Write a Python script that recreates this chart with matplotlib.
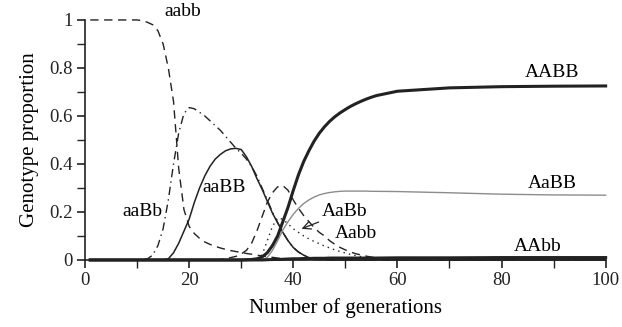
import numpy as np
import matplotlib.pyplot as plt
from matplotlib.ticker import MultipleLocator

plt.rcParams['font.family'] = ['Liberation Serif', 'DejaVu Serif']

# geracoes amostradas
gen = [1, 5, 10, 11, 12, 13, 14, 15, 16, 17, 18, 19, 20, 21, 22, 23, 24, 25,
       26, 27, 28, 29, 30, 31, 32, 33, 34, 35, 36, 37, 38, 39, 40, 41, 42, 43,
       44, 45, 46, 47, 48, 49, 50, 51, 52, 53, 54, 55, 56, 60, 70, 80, 90, 100]

aabb = [1, 1, 1, 0.997, 0.99, 0.98, 0.955, 0.9, 0.8, 0.66, 0.38, 0.21, 0.14,
        0.11, 0.09, 0.075, 0.065, 0.057, 0.05, 0.044, 0.039, 0.035, 0.031,
        0.027, 0.024, 0.02, 0.017, 0.014, 0.011, 0.008, 0.006, 0.004, 0.003,
        0.002, 0.002, 0.001, 0.001, 0.001, 0.001, 0.001, 0.001, 0.001, 0.001,
        0.001, 0.001, 0.001, 0.001, 0.001, 0.001, 0.001, 0.001, 0.001, 0.001, 0.001]

aaBb = [0, 0, 0, 0.001, 0.005, 0.02, 0.06, 0.13, 0.25, 0.4, 0.53, 0.61, 0.635,
        0.63, 0.615, 0.6, 0.58, 0.56, 0.54, 0.515, 0.49, 0.465, 0.445, 0.42,
        0.39, 0.35, 0.3, 0.25, 0.2, 0.155, 0.115, 0.08, 0.052, 0.033, 0.02,
        0.011, 0.006, 0.003, 0.002, 0.001, 0, 0, 0, 0, 0, 0, 0, 0, 0, 0, 0, 0, 0, 0]

aaBB = [0, 0, 0, 0, 0, 0, 0, 0, 0.005, 0.03, 0.07, 0.12, 0.17, 0.24, 0.3,
        0.35, 0.39, 0.42, 0.44, 0.455, 0.463, 0.465, 0.46, 0.43, 0.39, 0.34,
        0.295, 0.245, 0.195, 0.155, 0.115, 0.08, 0.052, 0.033, 0.02, 0.01,
        0.005, 0.002, 0.001, 0, 0, 0, 0, 0, 0, 0, 0, 0, 0, 0, 0, 0, 0, 0]

AaBb = [0, 0, 0, 0, 0, 0, 0, 0, 0, 0, 0, 0, 0, 0, 0, 0, 0, 0, 0.002, 0.005,
        0.01, 0.015, 0.025, 0.04, 0.07, 0.12, 0.18, 0.24, 0.28, 0.305, 0.31,
        0.29, 0.25, 0.215, 0.185, 0.16, 0.135, 0.115, 0.1, 0.08, 0.065,
        0.052, 0.042, 0.033, 0.026, 0.021, 0.016, 0.012, 0.009, 0.003,
        0.001, 0.001, 0.001, 0.001]

Aabb = [0, 0, 0, 0, 0, 0, 0, 0, 0, 0, 0, 0, 0, 0, 0, 0, 0, 0, 0, 0, 0, 0, 0,
        0, 0.002, 0.005, 0.02, 0.08, 0.14, 0.175, 0.17, 0.15, 0.13, 0.115,
        0.1, 0.088, 0.077, 0.068, 0.058, 0.05, 0.042, 0.035, 0.029, 0.023,
        0.018, 0.014, 0.01, 0.008, 0.006, 0.002, 0.001, 0.001, 0.001, 0.001]

AABB = [0, 0, 0, 0, 0, 0, 0, 0, 0, 0, 0, 0, 0, 0, 0, 0, 0, 0, 0, 0, 0, 0, 0,
        0.001, 0.002, 0.005, 0.012, 0.03, 0.06, 0.1, 0.16, 0.22, 0.29, 0.355,
        0.41, 0.455, 0.495, 0.528, 0.555, 0.578, 0.597, 0.613, 0.627, 0.64,
        0.651, 0.661, 0.67, 0.678, 0.685, 0.703, 0.717, 0.722, 0.724, 0.725]

AaBB = [0, 0, 0, 0, 0, 0, 0, 0, 0, 0, 0, 0, 0, 0, 0, 0, 0, 0, 0, 0, 0, 0, 0,
        0, 0, 0.001, 0.002, 0.01, 0.04, 0.08, 0.125, 0.16, 0.19, 0.215,
        0.235, 0.25, 0.262, 0.271, 0.277, 0.281, 0.284, 0.286, 0.287, 0.287,
        0.287, 0.287, 0.287, 0.286, 0.286, 0.285, 0.28, 0.274, 0.271, 0.27]

AAbb = [0, 0, 0, 0, 0, 0, 0, 0, 0, 0, 0, 0, 0, 0, 0, 0, 0, 0, 0, 0, 0, 0, 0,
        0, 0, 0, 0, 0.001, 0.002, 0.002, 0.003, 0.004, 0.005, 0.005, 0.006,
        0.006, 0.007, 0.007, 0.007, 0.008, 0.008, 0.008, 0.008, 0.008, 0.008,
        0.008, 0.008, 0.008, 0.008, 0.009, 0.009, 0.01, 0.01, 0.01]

fig = plt.figure(figsize=(6.22, 3.27), dpi=100)
ax = fig.add_axes([0.1367, 0.205, 0.837, 0.734])

ax.plot(gen, aabb, color="#222", lw=1.0, ls=(0, (6, 4)), clip_on=False)
ax.plot(gen, aaBb, color="#222", lw=1.0, ls=(0, (6, 3, 1, 3)), clip_on=False)
ax.plot(gen, aaBB, color="#222", lw=1.1, clip_on=False)
ax.plot(gen, AaBb, color="#222", lw=1.0, ls=(0, (6, 4)), clip_on=False)
ax.plot(gen, Aabb, color="#222", lw=1.0, ls=(0, (1, 3)), clip_on=False)
ax.plot(gen, AaBB, color="#8c8c8c", lw=1.0, clip_on=False)
ax.plot(gen, AAbb, color="#222", lw=2.2, clip_on=False)
ax.plot(gen, AABB, color="#222", lw=2.2, clip_on=False)

fs = 14
ax.text(15.3, 1.0, "aabb", fontsize=fs, va="bottom", ha="left")
ax.text(89.8, 0.745, "AABB", fontsize=fs, va="bottom", ha="center")
ax.text(89.8, 0.285, "AaBB", fontsize=fs, va="bottom", ha="center")
ax.text(87.0, 0.02, "AAbb", fontsize=fs, va="bottom", ha="center")
ax.text(11.0, 0.2, "aaBb", fontsize=fs, va="center", ha="center")
ax.text(26.7, 0.3, "aaBB", fontsize=fs, va="center", ha="center")
ax.text(48.0, 0.11, "Aabb", fontsize=fs, va="center", ha="left")
ax.annotate("AaBb", xy=(41.6, 0.13), xytext=(45.4, 0.2), fontsize=fs,
            va="center", ha="left",
            arrowprops=dict(arrowstyle="->", color="#222", lw=0.9,
                            shrinkA=0, shrinkB=0))

ax.set_xlim(0, 100)
ax.set_ylim(0, 1)
ax.xaxis.set_major_locator(MultipleLocator(20))
ax.xaxis.set_minor_locator(MultipleLocator(10))
ax.yaxis.set_minor_locator(MultipleLocator(0.1))
ax.set_yticks([0, 0.2, 0.4, 0.6, 0.8, 1.0])
ax.set_yticklabels(["0", "0.2", "0.4", "0.6", "0.8", "1"])

ax.spines["top"].set_visible(False)
ax.spines["right"].set_visible(False)
for s in ["left", "bottom"]:
    ax.spines[s].set_linewidth(1.2)
    ax.spines[s].set_color("#222")
ax.tick_params(which="major", direction="out", length=6, width=1.2,
               labelsize=13.5, colors="#222", pad=3)
ax.tick_params(which="minor", direction="out", length=6, width=1.0,
               colors="#222")

ax.set_xlabel("Number of generations", fontsize=15, labelpad=6)
ax.set_ylabel("Genotype proportion", fontsize=15, labelpad=7)

fig.savefig("out.png", dpi=100)
